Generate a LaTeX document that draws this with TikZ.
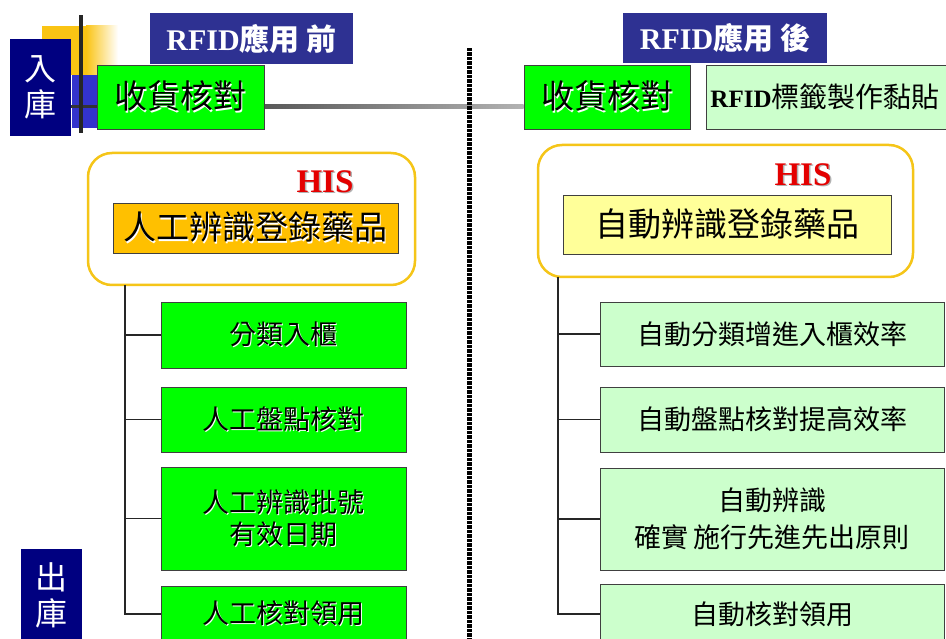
\documentclass[tikz,border=0pt]{standalone}
\usepackage{fontspec}
\usetikzlibrary{backgrounds}
\setmainfont{Liberation Serif}
\newfontfamily\cjk{Noto Sans CJK TC}
\definecolor{navyA}{RGB}{0,0,128}
\definecolor{navyB}{RGB}{46,49,146}
\definecolor{brgreen}{RGB}{0,255,0}
\definecolor{ltgreen}{RGB}{204,255,204}
\definecolor{goldbox}{RGB}{255,192,0}
\definecolor{ltyellow}{RGB}{255,255,153}
\definecolor{rimgold}{RGB}{245,197,24}
\definecolor{hisred}{RGB}{228,0,0}
\definecolor{midblue}{RGB}{51,51,204}
\definecolor{sqyellow}{RGB}{250,196,20}
\newcommand\shd[1]{\makebox[0pt][l]{\hspace{1.3pt}\raisebox{-1.3pt}{\textcolor{white}{#1}}}#1}
\newcommand\shdg[1]{\makebox[0pt][l]{\hspace{1.5pt}\raisebox{-1.5pt}{\textcolor{black!30}{#1}}}#1}
\tikzset{
  box/.style={draw=black!75, line width=0.9pt, inner sep=0pt, align=center,
    font=\cjk\fontsize{27}{32}\selectfont},
  gbox/.style={box, fill=brgreen},
  lbox/.style={box, fill=ltgreen},
  hdr/.style={fill=navyB, text=white, inner sep=0pt, minimum height=51, minimum width=203},
  navybox/.style={fill=navyA, text=white, inner sep=0pt, align=center,
    font=\cjk\fontsize{32}{36}\selectfont, minimum width=61},
  hisframe/.style={draw=rimgold, line width=2.5pt, rounded corners=24pt, fill=white, inner sep=0pt},
  histext/.style={text=hisred, inner sep=0pt, font=\bfseries\fontsize{33}{33}\selectfont},
  link/.style={draw=black!85, line width=1.2pt},
}
\begin{document}
\begin{tikzpicture}[x=1pt,y=-1pt]
\useasboundingbox (0,0) rectangle (946,639);
\clip (0,0) rectangle (946,639);

% headers and receiving boxes
\node[navybox, minimum height=97] (ru) at (40.5,87.5) {入\\庫};
\node[hdr] (hdrL) at (251.5,39) {\fontsize{30}{30}\selectfont\bfseries RFID{\cjk 應用 前}};
\node[hdr, minimum width=204, minimum height=50] (hdrR) at (725,38) {\fontsize{30}{30}\selectfont\bfseries RFID{\cjk 應用 後}};

\node[gbox, minimum width=167, minimum height=64, font=\cjk\fontsize{33}{36}\selectfont] (rcvL) at (180.5,97) {\shd{收貨核對}};
\node[gbox, minimum width=166, minimum height=64, font=\cjk\fontsize{33}{36}\selectfont] (rcvR) at (607,97) {\shd{收貨核對}};
\node[lbox, anchor=west, minimum width=270, minimum height=64, align=left, text width=262, inner xsep=4pt] (tag) at (706,97)
  {{\rmfamily\bfseries\fontsize{25}{25}\selectfont RFID}{\cjk\fontsize{28}{30}\selectfont 標籤製作黏貼}};

\begin{scope}[on background layer]
  \fill[white] (0,0) rectangle (946,639);
  \fill[sqyellow] (42,26) rectangle (86,75);
  \shade[left color=sqyellow, right color=white] (86,26) rectangle (118,75);
  \fill[midblue] (72,75) rectangle (97,128);
  \draw[line width=3pt, black!80] ([yshift=-19.5pt]ru.east) -- ([yshift=-10pt]rcvL.west);
  \shade[left color=black!65, right color=black!30] ([yshift=-8pt]rcvL.east) rectangle ([yshift=-12pt]rcvR.west);
\end{scope}
\fill[black!85] (79,15) rectangle (83,133);

% divider (dotted column of small squares)
\foreach \k in {0,...,132} \fill[black] (467,48+4.5*\k) rectangle (471.5,51.5+4.5*\k);

% HIS frames
\node[hisframe, minimum width=327, minimum height=132] (frL) at (251.5,219) {};
\node[histext] (hisL) at (325,182) {\shdg{HIS}};
\node[box, fill=goldbox, minimum width=285, minimum height=50, font=\cjk\fontsize{33}{36}\selectfont] (regL) at (255.5,228) {\shd{人工辨識登錄藥品}};

\node[hisframe, minimum width=375, minimum height=132] (frR) at (725.5,211) {};
\node[histext] (hisR) at (803,175) {\shdg{HIS}};
\node[box, fill=ltyellow, minimum width=328, minimum height=59, font=\cjk\fontsize{33}{36}\selectfont] (regR) at (727,224.5) {自動辨識登錄藥品};

% left task boxes
\node[gbox, minimum width=245, minimum height=66] (b1L) at (283.5,335) {\shd{分類入櫃}};
\node[gbox, minimum width=245, minimum height=65] (b2L) at (283.5,419.5) {\shd{人工盤點核對}};
\node[gbox, minimum width=245, minimum height=103] (b3L) at (283.5,518.5) {\shd{人工辨識批號}\\\shd{有效日期}};
\node[gbox, minimum width=245, minimum height=56] (b4L) at (283.5,614) {\shd{人工核對領用}};

% right task boxes
\node[lbox, minimum width=344, minimum height=64] (b1R) at (772,334) {自動分類增進入櫃效率};
\node[lbox, minimum width=344, minimum height=65] (b2R) at (772,419.5) {自動盤點核對提高效率};
\node[lbox, minimum width=344, minimum height=102] (b3R) at (772,519) {自動辨識\\[5pt]確實\,施行先進先出原則};
\node[lbox, minimum width=344, minimum height=60] (b4R) at (772,614) {自動核對領用};

% tree links
\coordinate (tl) at (125,285);
\draw[link] (tl) |- (b4L.west);
\foreach \n in {b1L,b2L,b3L} \draw[link] (tl |- \n.west) -- (\n.west);
\coordinate (tr) at (558,277);
\draw[link] (tr) |- (b4R.west);
\foreach \n in {b1R,b2R,b3R} \draw[link] (tr |- \n.west) -- (\n.west);

% exit label
\node[navybox, minimum height=92] (chu) at (51.5,595) {出\\庫};
\end{tikzpicture}
\end{document}
